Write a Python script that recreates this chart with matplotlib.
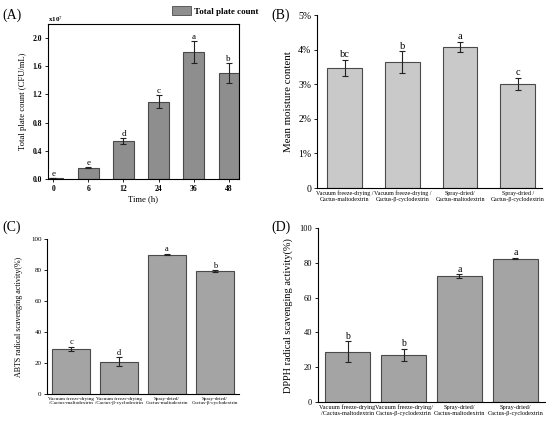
import numpy as np
import matplotlib.pyplot as plt

plt.rcParams['font.family'] = ['Liberation Serif', 'DejaVu Serif']
plt.rcParams['mathtext.fontset'] = 'stix'

# (A) total plate count over time
time_labels = ['0', '6', '12', '24', '36', '48']
tpc_mean = [0.01, 0.16, 0.54, 1.10, 1.80, 1.50]
tpc_err = [0.0, 0.01, 0.045, 0.09, 0.16, 0.14]
tpc_letters = ['e', 'e', 'd', 'c', 'a', 'b']

# (B), (C), (D) share the same four samples
samples_B = ['Vacuum freeze-drying /\nCactus-maltodextrin', 'Vacuum freeze-drying /\nCactus-β-cyclodextrin',
             'Spray-dried/\nCactus-maltodextrin', 'Spray-dried /\nCactus-β-cyclodextrin']
moisture_mean = [3.48, 3.63, 4.07, 3.01]
moisture_err = [0.23, 0.32, 0.15, 0.17]
moisture_letters = ['bc', 'b', 'a', 'c']

samples_C = ['Vacuum freeze-drying\n/Cactus-maltodextrin', 'Vacuum freeze-drying\n/Cactus-β-cyclodextrin',
             'Spray-dried/\nCactus-maltodextrin', 'Spray-dried/\nCactus-β-cyclodextrin']
abts_mean = [29.2, 20.8, 89.9, 79.4]
abts_err = [1.2, 3.0, 0.5, 0.6]
abts_letters = ['c', 'd', 'a', 'b']

samples_D = ['Vacuum freeze-drying\n/Cactus-maltodextrin', 'Vacuum freeze-drying/\nCactus-β-cyclodextrin',
             'Spray-dried/\nCactus-maltodextrin', 'Spray-dried/\nCactus-β-cyclodextrin']
dpph_mean = [29.0, 27.0, 72.4, 82.5]
dpph_err = [6.0, 3.6, 1.1, 0.5]
dpph_letters = ['b', 'b', 'a', 'a']

fig = plt.figure(figsize=(5.5, 4.24), dpi=100)

def bars(ax, labels, means, errs, letters, color, width, off, fs):
    x = np.arange(len(means))
    ax.bar(x, means, width, color=color, edgecolor='#4a4a4a', linewidth=0.8,
           yerr=errs, capsize=2, error_kw=dict(elinewidth=0.8, capthick=0.8, ecolor='#222222'))
    for i in x:
        ax.text(i, means[i] + errs[i] + off, letters[i], ha='center', va='bottom', fontsize=fs)
    ax.set_xticks(x)
    ax.set_xticklabels(labels)
    return x

# --- (A)
axA = fig.add_axes([0.0873, 0.5778, 0.347, 0.3656])
bars(axA, time_labels, tpc_mean, tpc_err, tpc_letters, '#8e8e8e', 0.58, 0.0, 6.5)
axA.set_xlim(-0.15, 5.29)
axA.set_ylim(0, 2.2)
axA.set_yticks(np.arange(0, 2.01, 0.4))
axA.set_yticklabels([f'{v:.1f}' for v in np.arange(0, 2.01, 0.4)])
axA.tick_params(labelsize=5.5, length=2, width=0.6, pad=2)
for t in axA.get_xticklabels() + axA.get_yticklabels():
    t.set_fontweight('bold')
axA.set_xlabel('Time (h)', fontsize=6.2, labelpad=2)
axA.set_ylabel('Total plate count (CFU/mL)', fontsize=6.2, labelpad=4)
axA.text(0, 1.0, r'x10$^7$', transform=axA.transAxes, fontsize=5, fontweight='bold', va='bottom')
for s in axA.spines.values():
    s.set_linewidth(0.8)
h = plt.Rectangle((0, 0), 1, 1, facecolor='#8e8e8e', edgecolor='#4a4a4a', linewidth=0.6)
fig.legend([h], ['Total plate count'], loc='upper right', bbox_to_anchor=(0.485, 1.005),
           frameon=False, prop=dict(size=6.5, weight='bold'), handlelength=2.2, handleheight=1.2,
           handletextpad=0.3)

# --- (B)
axB = fig.add_axes([0.5764, 0.5566, 0.409, 0.408])
bars(axB, samples_B, moisture_mean, moisture_err, moisture_letters, '#c9c9c9', 0.6, 0.02, 7.5)
axB.set_xlim(-0.48, 3.42)
axB.set_ylim(0, 5)
axB.set_yticks(range(6))
axB.set_yticklabels(['0', '1%', '2%', '3%', '4%', '5%'])
axB.tick_params(axis='y', labelsize=7, length=2, width=0.6, pad=2)
axB.tick_params(axis='x', labelsize=4.3, length=0, pad=2)
axB.set_ylabel('Mean moisture content', fontsize=7.8, labelpad=4)
axB.spines[['top', 'right']].set_visible(False)

# --- (C)
axC = fig.add_axes([0.0855, 0.0708, 0.349, 0.3656])
bars(axC, samples_C, abts_mean, abts_err, abts_letters, '#a4a4a4', 0.81, 0.3, 6)
axC.set_xlim(-0.5, 3.5)
axC.set_ylim(0, 100)
axC.set_yticks(range(0, 101, 20))
axC.tick_params(axis='y', labelsize=5, length=2, width=0.6, pad=2)
axC.tick_params(axis='x', labelsize=3.7, length=0, pad=2)
axC.set_ylabel('ABTS radical scavenging activity(%)', fontsize=5.8, labelpad=6)
axC.spines[['top', 'right']].set_visible(False)

# --- (D)
axD = fig.add_axes([0.578, 0.0519, 0.413, 0.410])
bars(axD, samples_D, dpph_mean, dpph_err, dpph_letters, '#a4a4a4', 0.8, 0.3, 7)
axD.set_xlim(-0.53, 3.53)
axD.set_ylim(0, 100)
axD.set_yticks(range(0, 101, 20))
axD.tick_params(axis='y', labelsize=6, length=2, width=0.6, pad=2)
axD.tick_params(axis='x', labelsize=4.5, length=0, pad=2)
axD.set_ylabel('DPPH radical scavenging activity(%)', fontsize=7.4, labelpad=5)
axD.spines[['top', 'right']].set_visible(False)

# panel letters
for x, y, lab in [(0.005, 0.965, '(A)'), (0.494, 0.965, '(B)'), (0.005, 0.465, '(C)'), (0.494, 0.465, '(D)')]:
    fig.text(x, y, lab, fontsize=10, va='center')

fig.savefig('out.png', dpi=100)
